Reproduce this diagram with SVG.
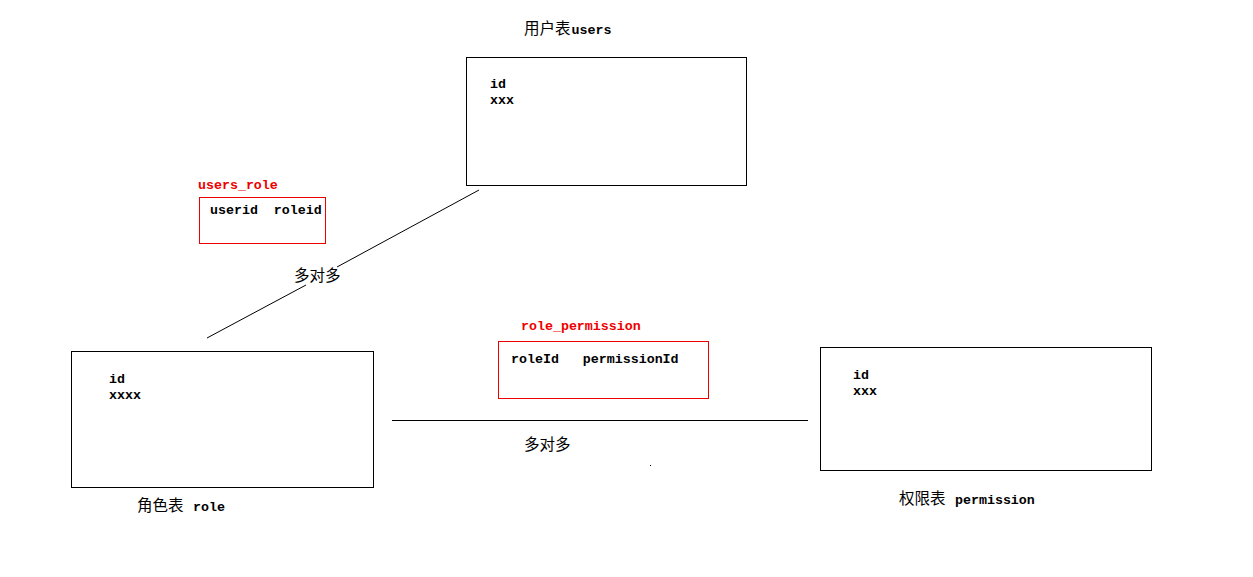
<svg xmlns="http://www.w3.org/2000/svg" width="1253" height="577" viewBox="0 0 1253 577">
<style>
.box{fill:#fff;stroke:#000;stroke-width:1}
.rbox{fill:#fff;stroke:#e00;stroke-width:1}
.m{font-family:"Liberation Mono","DejaVu Sans Mono",monospace;font-weight:bold;font-size:13.3px;fill:#000}
.r{fill:#e00}
.c{font-family:"Noto Sans CJK SC","Noto Sans",sans-serif;font-size:15.5px;fill:#000}
.ln{stroke:#000;stroke-width:1;fill:none}
</style>
<rect width="1253" height="577" fill="#fff"/>
<g id="users">
<text x="524" y="34"><tspan class="c">用户表</tspan><tspan class="m" dx="1">users</tspan></text>
<rect class="box" x="466.5" y="57.5" width="280" height="128"/>
<text class="m" x="490" y="88">id</text>
<text class="m" x="490" y="104">xxx</text>
</g>
<g id="users_role">
<text class="m r" x="198" y="189">users_role</text>
<rect class="rbox" x="199.5" y="197.5" width="126" height="46"/>
<text class="m" x="210" y="214" xml:space="preserve">userid  roleid</text>
</g>
<g id="role">
<rect class="box" x="71.5" y="351.5" width="302" height="136"/>
<text class="m" x="109" y="383">id</text>
<text class="m" x="109" y="399">xxxx</text>
<text x="137" y="511"><tspan class="c">角色表 </tspan><tspan class="m" x="193">role</tspan></text>
</g>
<g id="role_permission">
<text class="m r" x="521" y="330">role_permission</text>
<rect class="rbox" x="498.5" y="341.5" width="210" height="57"/>
<text class="m" x="511" y="363" xml:space="preserve">roleId   permissionId</text>
</g>
<g id="permission">
<rect class="box" x="820.5" y="347.5" width="331" height="123"/>
<text class="m" x="853" y="379">id</text>
<text class="m" x="853" y="395">xxx</text>
<text x="899" y="504"><tspan class="c">权限表 </tspan><tspan class="m" x="955">permission</tspan></text>
</g>
<g id="connectors">
<line class="ln" x1="479" y1="190" x2="337" y2="267"/>
<line class="ln" x1="306" y1="285" x2="207" y2="338"/>
<text class="c" x="294" y="281">多对多</text>
<line class="ln" x1="392" y1="420.5" x2="808" y2="420.5"/>
<text class="c" x="524" y="450">多对多</text>
<rect x="650" y="465" width="1" height="1" fill="#000"/>
</g>
</svg>
